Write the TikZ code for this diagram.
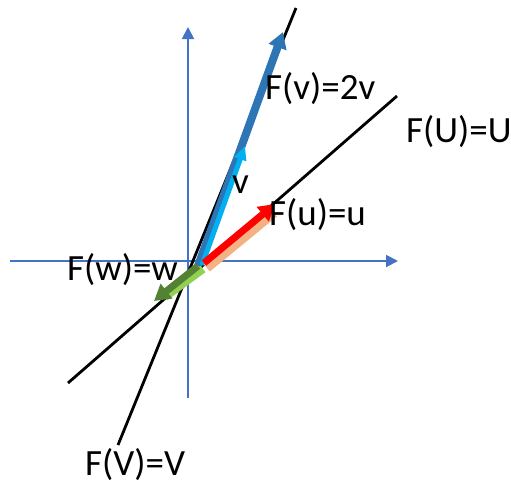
\documentclass[tikz,border=0pt]{standalone}
\usepackage{fontspec}
\setmainfont{Carlito}
\usetikzlibrary{arrows.meta}
\definecolor{axisblue}{HTML}{4472C4}
\definecolor{darkblue}{HTML}{2E75B6}
\definecolor{lightblue}{HTML}{00B0F0}
\definecolor{peach}{HTML}{F4B183}
\definecolor{darkgreen}{HTML}{548235}
\definecolor{lightgreen}{HTML}{92D050}
\tikzset{
  axis/.style={axisblue, line width=2pt, -{Triangle[length=12pt,width=12pt]}},
  eigline/.style={black, line width=2.8pt},
  vec/.style={line width=#1, -{Triangle[length=16pt,width=18pt]}},
  lbl/.style={anchor=base west, inner sep=0pt, font=\fontsize{37}{42}\selectfont}
}
\begin{document}
\begin{tikzpicture}[x=1pt,y=-1pt]
\useasboundingbox (0,0) rectangle (511,483);
% axes
\coordinate (xl) at (10,261);
\coordinate (xr) at (398,261);
\coordinate (yb) at (188,398);
\coordinate (yt) at (188,27);
\draw[axis] (xl) -- (xr);
\draw[axis] (yb) -- (yt);
% eigen lines
\coordinate (U1) at (68,383);
\coordinate (U2) at (397,96);
\coordinate (V1) at (118,445);
\coordinate (V2) at (296,8);
\draw[eigline] (U1) -- (U2);
\draw[eigline] (V1) -- (V2);
% vectors
\coordinate (o1) at (198,266);
\coordinate (Fv) at (283,32);
\coordinate (o2) at (202,265);
\coordinate (v) at (245,146);
\coordinate (o3) at (207,268);
\coordinate (u) at (274,213);
\coordinate (o4) at (204,263);
\coordinate (Fu) at (275,204);
\coordinate (o5) at (203,269);
\coordinate (w) at (165,297);
\coordinate (o6) at (198,266);
\coordinate (Fw) at (154,301);
\draw[darkblue, vec=8pt] (o1) -- (Fv);
\draw[lightblue, line width=5pt, -{Triangle[length=14pt,width=12pt]}] (o2) -- (v);
\draw[peach, line width=9pt] (o3) -- (u);
\draw[red, vec=7pt] (o4) -- (Fu);
\draw[lightgreen, line width=8pt] (o5) -- (w);
\draw[darkgreen, vec=7pt] (o6) -- (Fw);
% labels
\node[lbl] (lFv) at (265,99) {F(v)=2v};
\node[lbl] (lFU) at (406,142) {F(U)=U};
\node[lbl] (lv) at (232,193) {v};
\node[lbl] (lFu) at (269,225) {F(u)=u};
\node[lbl] (lFw) at (67,280) {F(w)=w};
\node[lbl] (lFV) at (85,475) {F(V)=V};
\end{tikzpicture}
\end{document}
